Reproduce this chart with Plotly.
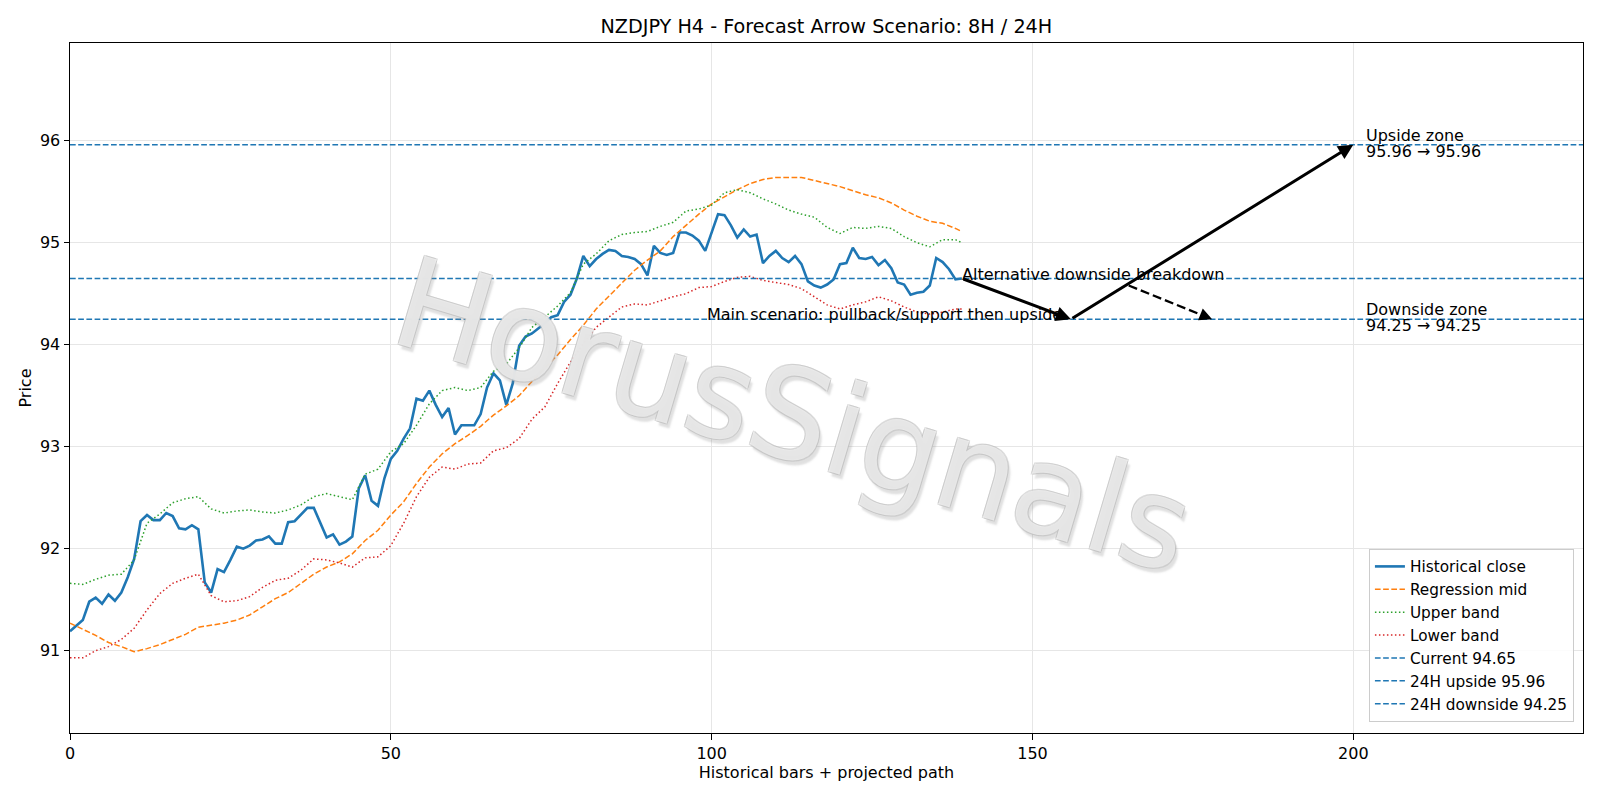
import plotly.graph_objects as go

# ---------------- data ----------------
close = [91.19, 91.25, 91.30, 91.48, 91.52, 91.46, 91.55, 91.49, 91.57, 91.72,
         91.90, 92.27, 92.33, 92.28, 92.28, 92.35, 92.32, 92.20, 92.19, 92.23,
         92.19, 91.67, 91.57, 91.80, 91.77, 91.89, 92.02, 92.00, 92.03, 92.08,
         92.09, 92.12, 92.05, 92.05, 92.26, 92.27, 92.34, 92.40, 92.40, 92.25,
         92.11, 92.14, 92.04, 92.07, 92.12, 92.59, 92.72, 92.47, 92.42, 92.69,
         92.88, 92.96, 93.08, 93.18, 93.47, 93.45, 93.55, 93.41, 93.29, 93.38,
         93.12, 93.21, 93.21, 93.21, 93.32, 93.58, 93.72, 93.65, 93.41, 93.62,
         93.99, 94.08, 94.11, 94.16, 94.21, 94.27, 94.29, 94.42, 94.49, 94.65,
         94.87, 94.77, 94.84, 94.89, 94.93, 94.92, 94.87, 94.86, 94.84, 94.79,
         94.68, 94.97, 94.90, 94.88, 94.90, 95.10, 95.10, 95.07, 95.02, 94.92,
         95.10, 95.28, 95.27, 95.17, 95.05, 95.13, 95.06, 95.08, 94.80, 94.87,
         94.92, 94.85, 94.81, 94.87, 94.79, 94.62, 94.58, 94.56, 94.59, 94.64,
         94.79, 94.80, 94.95, 94.85, 94.84, 94.86, 94.78, 94.83, 94.75, 94.61,
         94.59, 94.49, 94.51, 94.52, 94.58, 94.85, 94.81, 94.74, 94.64, 94.65]
bars = list(range(len(close)))

band_bars = [*range(0, 140, 2), 139]
reg_mid = [91.27, 91.21, 91.15, 91.08, 91.04, 90.99, 91.02, 91.06, 91.11, 91.16,
           91.23, 91.25, 91.27, 91.30, 91.35, 91.43, 91.51, 91.57, 91.66, 91.75,
           91.82, 91.87, 91.95, 92.08, 92.18, 92.33, 92.46, 92.64, 92.80, 92.93,
           93.03, 93.11, 93.20, 93.31, 93.40, 93.50, 93.64, 93.77, 93.90, 94.05,
           94.19, 94.35, 94.48, 94.61, 94.73, 94.83, 94.92, 95.06, 95.17, 95.28,
           95.38, 95.45, 95.52, 95.58, 95.62, 95.64, 95.64, 95.64, 95.61, 95.58,
           95.55, 95.51, 95.47, 95.44, 95.39, 95.32, 95.26, 95.21, 95.19, 95.14,
           95.11]
upper = [91.66, 91.65, 91.70, 91.74, 91.75, 91.89, 92.25, 92.34, 92.45, 92.49,
         92.51, 92.39, 92.35, 92.37, 92.38, 92.36, 92.35, 92.38, 92.43, 92.51,
         92.54, 92.51, 92.48, 92.73, 92.78, 92.95, 93.03, 93.21, 93.42, 93.55,
         93.58, 93.55, 93.58, 93.74, 93.81, 93.97, 94.17, 94.27, 94.38, 94.51,
         94.79, 94.89, 95.02, 95.08, 95.10, 95.11, 95.16, 95.20, 95.31, 95.33,
         95.37, 95.49, 95.52, 95.49, 95.43, 95.38, 95.32, 95.28, 95.25, 95.15,
         95.09, 95.15, 95.14, 95.16, 95.14, 95.06, 95.00, 94.96, 95.03, 95.03,
         95.00]
lower = [90.93, 90.93, 91.00, 91.04, 91.11, 91.22, 91.40, 91.56, 91.66, 91.71,
         91.75, 91.54, 91.48, 91.49, 91.53, 91.62, 91.69, 91.71, 91.79, 91.90,
         91.89, 91.86, 91.82, 91.91, 91.92, 92.03, 92.25, 92.51, 92.70, 92.80,
         92.78, 92.83, 92.84, 92.96, 92.99, 93.08, 93.27, 93.39, 93.62, 93.83,
         94.01, 94.17, 94.27, 94.37, 94.40, 94.39, 94.43, 94.47, 94.50, 94.56,
         94.57, 94.62, 94.66, 94.67, 94.63, 94.61, 94.59, 94.55, 94.47, 94.39,
         94.35, 94.39, 94.42, 94.47, 94.43, 94.37, 94.32, 94.30, 94.32, 94.35,
         94.35]

current_level = 94.65
upside_level = 95.96
downside_level = 94.25

# projected main path (bar, price) and alternative breakdown path
main_path_x = [139, 156, 200]
main_path_y = [94.65, 94.25, 95.96]
alt_path_x = [165, 178]
alt_path_y = [94.58, 94.25]

x_range = [0, 235.8]
y_range = [90.193, 96.958]

title = "NZDJPY H4 - Forecast Arrow Scenario: 8H / 24H"
x_label = "Historical bars + projected path"
y_label = "Price"
x_ticks = [0, 50, 100, 150, 200]
y_ticks = [91, 92, 93, 94, 95, 96]
watermark = "HorusSignals"

# ---------------- styling ----------------
FONT = "DejaVu Sans"
FS = 16
BLUE = "#1f77b4"
ORANGE = "#ff7f0e"
GREEN = "#2ca02c"
RED = "#d62728"
DASH = "5.7px,2.5px"
DOT = "1.5px,2.5px"

fig = go.Figure()

fig.add_trace(go.Scatter(x=bars, y=close, mode="lines", name="Historical close",
                         line=dict(color=BLUE, width=2.6)))
fig.add_trace(go.Scatter(x=band_bars, y=reg_mid, mode="lines", name="Regression mid",
                         line=dict(color=ORANGE, width=1.5, dash=DASH)))
fig.add_trace(go.Scatter(x=band_bars, y=upper, mode="lines", name="Upper band",
                         line=dict(color=GREEN, width=1.5, dash=DOT)))
fig.add_trace(go.Scatter(x=band_bars, y=lower, mode="lines", name="Lower band",
                         line=dict(color=RED, width=1.5, dash=DOT)))

for lvl, nm in [(current_level, f"Current {current_level:.2f}"),
                (upside_level, f"24H upside {upside_level:.2f}"),
                (downside_level, f"24H downside {downside_level:.2f}")]:
    fig.add_trace(go.Scatter(x=x_range, y=[lvl, lvl], mode="lines", name=nm,
                             line=dict(color=BLUE, width=1.5, dash=DASH)))

# alternative dashed path (line part)
fig.add_trace(go.Scatter(x=alt_path_x, y=alt_path_y, mode="lines", showlegend=False,
                         line=dict(color="black", width=2.3, dash="9px,4px"),
                         hoverinfo="skip"))

annotations = []
# main path arrows
for i in range(len(main_path_x) - 1):
    annotations.append(dict(x=main_path_x[i + 1], y=main_path_y[i + 1],
                            ax=main_path_x[i], ay=main_path_y[i],
                            xref="x", yref="y", axref="x", ayref="y",
                            showarrow=True, arrowhead=2, arrowsize=1.0,
                            arrowwidth=3.0, arrowcolor="black", text="", standoff=0))
# alt arrow head
fx = alt_path_x[-1] - (alt_path_x[-1] - alt_path_x[0]) * 0.15
fy = alt_path_y[-1] - (alt_path_y[-1] - alt_path_y[0]) * 0.15
annotations.append(dict(x=alt_path_x[-1], y=alt_path_y[-1], ax=fx, ay=fy,
                        xref="x", yref="y", axref="x", ayref="y",
                        showarrow=True, arrowhead=2, arrowsize=1.1,
                        arrowwidth=2.3, arrowcolor="black", text="", standoff=0))

tf = dict(family=FONT, size=FS, color="black")
oc = "rgba(190,190,190,0.9)"
wm_shadow = (f"-1px -1px 0 {oc}, 1px -1px 0 {oc}, -1px 1px 0 {oc}, 1px 1px 0 {oc}, "
             "4px 4px 2px rgba(140,140,140,0.45)")
annotations += [
    # watermark
    dict(x=0.478, y=0.4597, xref="paper", yref="paper", text=watermark,
         showarrow=False, textangle=16.5, xanchor="center", yanchor="middle",
         font=dict(family=FONT, size=126, color="rgba(255,255,255,0.6)",
                   shadow=wm_shadow)),
    dict(x=main_path_x[0], y=current_level, xref="x", yref="y", text="Alternative downside breakdown",
         showarrow=False, xanchor="left", yanchor="middle", yshift=4, xshift=-2, font=tf),
    dict(x=99.2, y=downside_level, xref="x", yref="y", text="Main scenario: pullback/support then upside",
         showarrow=False, xanchor="left", yanchor="middle", yshift=5, xshift=-2, font=tf),
]
for lvl, label in [(upside_level, "Upside zone"), (downside_level, "Downside zone")]:
    annotations.append(dict(x=202, y=lvl, xref="x", yref="y", text=label,
                            showarrow=False, xanchor="left", yanchor="middle",
                            yshift=9.4, xshift=-2, font=tf))
    annotations.append(dict(x=202, y=lvl, xref="x", yref="y", text=f"{lvl:.2f} → {lvl:.2f}",
                            showarrow=False, xanchor="left", yanchor="middle",
                            yshift=-6.3, xshift=-2, font=tf))

axis_common = dict(showline=True, linecolor="black", linewidth=1.2, mirror=True,
                   ticks="outside", ticklen=5.4, tickwidth=1.2, tickcolor="black",
                   showgrid=True, gridcolor="#e6e6e6", gridwidth=1, zeroline=False,
                   tickfont=dict(family=FONT, size=FS, color="black"))

fig.update_layout(
    width=1600, height=800,
    margin=dict(l=70.3, r=17, t=43, b=67),
    paper_bgcolor="white", plot_bgcolor="white",
    title=dict(text=title, x=0.5165, xanchor="center", y=1 - 26.5 / 800, yanchor="middle",
               font=dict(family=FONT, size=19.2, color="black")),
    xaxis=dict(range=x_range, tickvals=x_ticks, **axis_common,
               title=dict(text=x_label, font=dict(family=FONT, size=FS, color="black"), standoff=5)),
    yaxis=dict(range=y_range, tickvals=y_ticks, **axis_common,
               title=dict(text=y_label, font=dict(family=FONT, size=FS, color="black"), standoff=4)),
    legend=dict(x=0.994, y=0.016, xanchor="right", yanchor="bottom",
                bgcolor="rgba(255,255,255,0.85)", bordercolor="#cccccc", borderwidth=1,
                font=dict(family=FONT, size=15.3, color="black"), tracegroupgap=0),
    annotations=annotations,
    showlegend=True,
)

fig.write_html("out.html")
